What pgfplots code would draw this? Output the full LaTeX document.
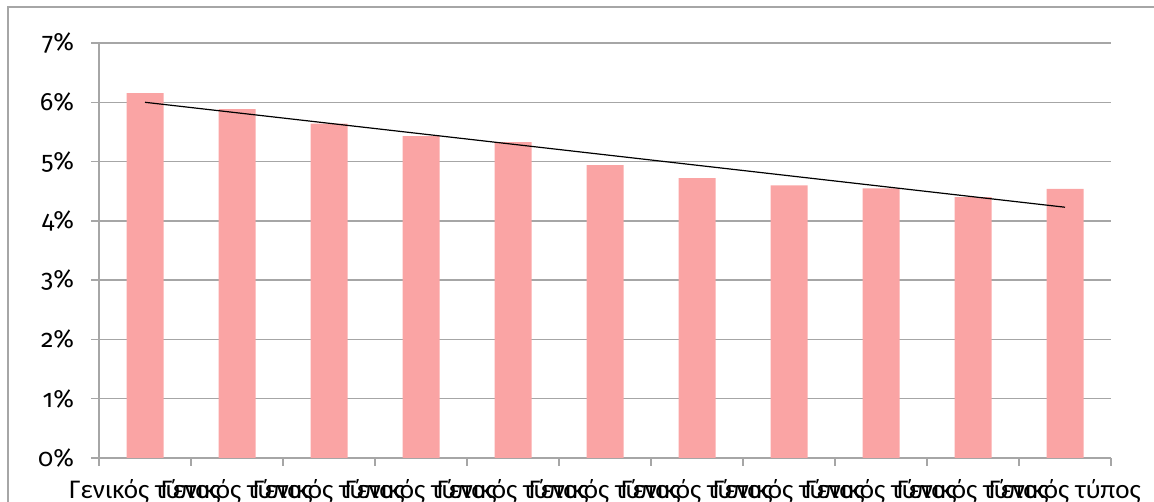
\documentclass[border=0pt]{standalone}
\usepackage{pgfplots}
\pgfplotsset{compat=1.18}
\usepackage{fontspec}
\setmainfont{Carlito}
\newfontfamily\numfont{Fira Sans}[Numbers=OldStyle]
\definecolor{barpink}{RGB}{250,164,164}
\definecolor{gridgray}{RGB}{166,166,166}
\begin{document}
\begin{tikzpicture}[x=1pt,y=1pt]
\useasboundingbox (0,0) rectangle (577,251);
\draw[gridgray, line width=0.6pt] (4,-5) -- (4,247.5) -- (580,247.5);
\begin{axis}[
  at={(49.5pt,22pt)}, anchor=south west,
  scale only axis, width=506pt, height=207.5pt,
  xmin=-0.5, xmax=10.5, ymin=0, ymax=7,
  axis x line*=bottom, axis y line*=left,
  axis line style={gridgray, line width=0.75pt, -},
  ymajorgrids, grid style={gridgray, line width=0.75pt},
  tick align=outside,
  ytick={0,1,2,3,4,5,6,7},
  yticklabels={{\numfont 0\%},{\numfont 1\%},{\numfont 2\%},{\numfont 3\%},{\numfont 4\%},{\numfont 5\%},{\numfont 6\%},{\numfont 7\%}},
  ytick style={gridgray, line width=0.75pt},
  major tick length=4pt,
  xtick={0,1,2,3,4,5,6,7,8,9,10},
  xticklabels={Γενικός τύπος,Γενικός τύπος,Γενικός τύπος,Γενικός τύπος,Γενικός τύπος,Γενικός τύπος,Γενικός τύπος,Γενικός τύπος,Γενικός τύπος,Γενικός τύπος,Γενικός τύπος},
  xtick style={draw=none},
  minor xtick={-0.5,0.5,1.5,2.5,3.5,4.5,5.5,6.5,7.5,8.5,9.5,10.5},
  minor tick length=4pt,
  minor x tick style={gridgray, line width=0.75pt, draw=gridgray},
  yticklabel style={font=\fontsize{12.5}{14}\selectfont, text=black, xshift=-5pt},
  xticklabel style={font=\fontsize{13.5}{15}\selectfont, text=black, yshift=-3pt},
  clip=false,
]
\addplot[ybar, bar width=18.5pt, fill=barpink, draw=none] coordinates {
  (0,6.155) (1,5.885) (2,5.64) (3,5.43) (4,5.33) (5,4.94) (6,4.72) (7,4.60) (8,4.55) (9,4.40) (10,4.54)
};
\addplot[black, line width=0.6pt] coordinates {(0,6.00) (10,4.23)};
\end{axis}
\end{tikzpicture}
\end{document}
